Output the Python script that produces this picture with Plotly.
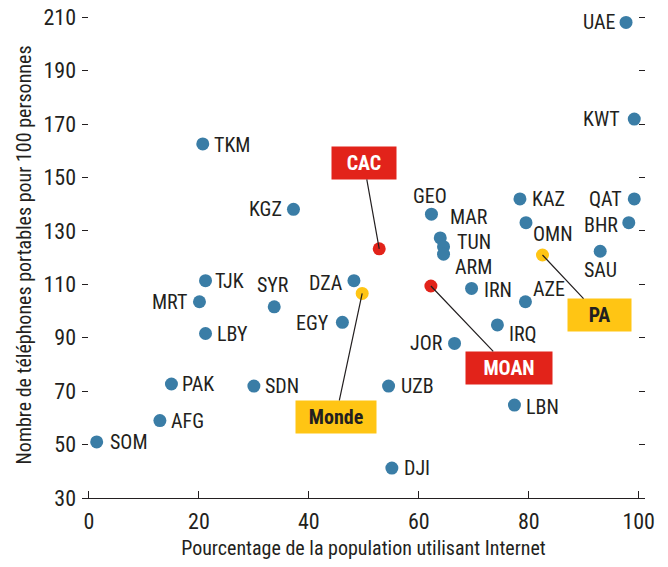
import plotly.graph_objects as go

# Country data: % population using Internet (x), mobile phones per 100 people (y)
countries = ["UAE", "KWT", "QAT", "BHR", "KAZ", "OMN", "SAU", "GEO", "MAR", "TUN", "ARM",
             "DZA", "EGY", "SYR", "TJK", "MRT", "LBY", "PAK", "SDN", "AFG", "SOM", "TKM",
             "KGZ", "IRN", "AZE", "IRQ", "JOR", "UZB", "LBN", "DJI"]
internet = [97.7, 99.2, 99.2, 98.2, 78.4, 79.5, 93.0, 62.3, 63.9, 64.5, 64.5,
            48.2, 46.1, 33.7, 21.2, 20.1, 21.2, 15.0, 30.0, 12.9, 1.4, 20.7,
            37.2, 69.6, 79.4, 74.3, 66.5, 54.5, 77.4, 55.1]
phones = [208.1, 171.9, 142.0, 133.1, 142.0, 133.1, 122.4, 136.3, 127.4, 124.1, 121.3,
          111.4, 95.8, 101.6, 111.4, 103.5, 91.6, 72.7, 71.9, 59.0, 51.0, 162.6,
          138.1, 108.5, 103.5, 94.8, 87.9, 71.9, 64.8, 41.2]

# Regional / world aggregates
agg_names = ["CAC", "MOAN", "PA", "Monde"]
agg_internet = [52.8, 62.2, 82.5, 49.7]
agg_phones = [123.3, 109.4, 121.0, 106.6]

y_ticks = [30, 50, 70, 90, 110, 130, 150, 170, 190, 210]
x_ticks = [0, 20, 40, 60, 80, 100]

# ---- styling ----
FONT = "Liberation Sans Narrow, Roboto Condensed, Arial Narrow, sans-serif"
TXT = "#231F20"
BLUE = "#3A7DA6"
RED = "#E2231A"
YELLOW = "#FFC514"

# label placement: (anchor, x offset px, y offset px downward)
label_place = {
    "UAE": ("right", -10, 0), "KWT": ("right", -14, 0), "QAT": ("right", -12, 0),
    "BHR": ("right", -11, 2), "KAZ": ("left", 12, 0), "OMN": ("left", 7, 11),
    "SAU": ("center", 0, 19), "GEO": ("center", -1, -18), "MAR": ("left", 10, -21),
    "TUN": ("left", 13, -5), "ARM": ("left", 11, 13), "DZA": ("right", -11, 2),
    "EGY": ("right", -13, 1), "SYR": ("center", -1, -22), "TJK": ("left", 9, 0),
    "MRT": ("right", -12, 0), "LBY": ("left", 11, 0), "PAK": ("left", 11, 0),
    "SDN": ("left", 11, 0), "AFG": ("left", 11, 0), "SOM": ("left", 13, 0),
    "TKM": ("left", 11, 1), "KGZ": ("right", -11, 0), "IRN": ("left", 12, 2),
    "AZE": ("left", 8, -13), "IRQ": ("left", 12, 9), "JOR": ("right", -12, 0),
    "UZB": ("left", 12, 0), "LBN": ("left", 12, 2), "DJI": ("left", 12, 0),
}

box_style = {
    "CAC": dict(ax=50.0, ay=155.5, bg=RED, fc="white", w=64),
    "MOAN": dict(ax=76.4, ay=78.7, bg=RED, fc="white", w=86),
    "PA": dict(ax=92.8, ay=98.5, bg=YELLOW, fc=TXT, w=63),
    "Monde": dict(ax=44.9, ay=60.4, bg=YELLOW, fc=TXT, w=80),
}
agg_colors = [box_style[n]["bg"] for n in agg_names]

fig = go.Figure()

fig.add_trace(go.Scatter(
    x=internet, y=phones, mode="markers",
    marker=dict(size=13, color=BLUE), showlegend=False, cliponaxis=False,
    hovertext=countries,
))

fig.add_trace(go.Scatter(
    x=agg_internet, y=agg_phones, mode="markers",
    marker=dict(size=13, color=agg_colors), showlegend=False, cliponaxis=False,
    hovertext=agg_names,
))

for c, xv, yv in zip(countries, internet, phones):
    anc, dx, dy = label_place[c]
    fig.add_annotation(
        x=xv, y=yv, text=c, showarrow=False, xanchor=anc, yanchor="middle",
        xshift=dx, yshift=-dy, borderpad=0, borderwidth=0,
        font=dict(family=FONT, size=20, color=TXT),
    )

for n, xv, yv in zip(agg_names, agg_internet, agg_phones):
    s = box_style[n]
    fig.add_annotation(
        x=xv, y=yv, ax=s["ax"], ay=s["ay"], axref="x", ayref="y",
        text="<b>%s</b>" % n, showarrow=True, arrowhead=0, arrowwidth=1.2,
        arrowcolor="#231F20", standoff=0, startstandoff=0,
        bgcolor=s["bg"], borderpad=0, width=s["w"], height=32,
        font=dict(family=FONT, size=20, color=s["fc"]),
    )

fig.update_layout(
    width=668, height=567,
    margin=dict(l=82, r=23, t=12, b=69),
    paper_bgcolor="white", plot_bgcolor="white",
    font=dict(family=FONT, color=TXT, size=20),
    xaxis=dict(
        range=[-1.27, 101.15], tickvals=x_ticks, ticks="inside", ticklen=7,
        tickcolor=TXT, tickwidth=1.3, showline=True, linecolor=TXT, linewidth=1.3,
        showgrid=False, zeroline=False, automargin=False, ticklabelstandoff=3,
        tickfont=dict(family=FONT, size=22, color=TXT),
        title=dict(text="Pourcentage de la population utilisant Internet",
                   font=dict(family=FONT, size=20, color=TXT), standoff=8),
    ),
    yaxis=dict(
        range=[30, 212], tickvals=y_ticks, ticks="inside", ticklen=6,
        tickcolor=TXT, tickwidth=1.3, showline=False, mirror="ticks",
        showgrid=False, zeroline=False, automargin=False, ticklabelstandoff=5,
        tickfont=dict(family=FONT, size=22, color=TXT),
        title=dict(text="Nombre de téléphones portables pour 100 personnes",
                   font=dict(family=FONT, size=20, color=TXT), standoff=6),
    ),
)

fig.write_html("out.html", config={"displayModeBar": False},
               post_script="document.body.style.margin='0px';")
